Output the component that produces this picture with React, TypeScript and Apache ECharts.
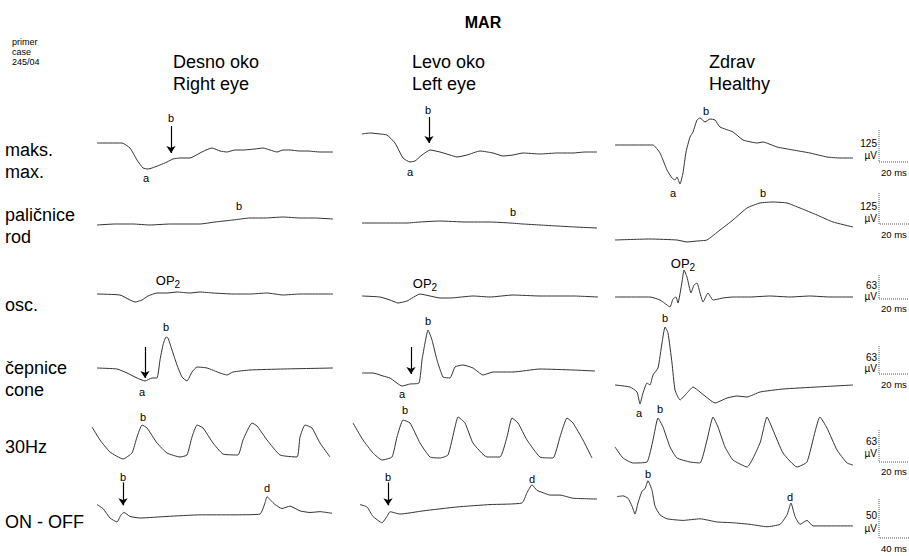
import React, { useEffect, useRef } from "react";
import * as echarts from "echarts";

// ---------- text ----------
const title = "MAR";
const caseInfo = ["primer", "case", "245/04"];
const columnTitles = [
  ["Desno oko", "Right eye"],
  ["Levo oko", "Left eye"],
  ["Zdrav", "Healthy"],
];
const rowLabels = [
  ["maks.", "max."],
  ["paličnice", "rod"],
  ["osc."],
  ["čepnice", "cone"],
  ["30Hz"],
  ["ON - OFF"],
];
const ampScale = ["125", "125", "63", "63", "63", "50"];
const ampUnit = "µV";
const timeScale = ["20 ms", "20 ms", "20 ms", "20 ms", "20 ms", "40 ms"];

// ---------- traces: [sample position, amplitude] ----------
const maxRight = [[5,2],[18,2],[30,2],[38,-3],[45,-15],[51,-23],[56,-24],[60,-23],[68,-20],[75,-17],[81,-14],[88,-13],[98,-13],[108,-8],[114,-5],[120,-3],[128,-6],[135,-7],[143,-5],[151,-5],[163,-4],[171,-3],[178,-5],[185,-7],[191,-5],[198,-5],[207,-6],[215,-6],[228,-7],[241,-7]];
const maxLeft = [[9,11],[17,12],[27,11],[34,10],[42,2],[50,-13],[57,-17],[62,-16],[69,-10],[77,-5],[87,-7],[97,-10],[104,-12],[114,-10],[127,-6],[140,-8],[150,-11],[160,-10],[170,-8],[187,-9],[204,-8],[220,-8],[232,-7],[244,-7]];
const maxHealthy = [[3,0],[18,0],[33,0],[41,0],[48,-8],[55,-25],[60,-33],[63,-35],[65,-32],[68,-39],[71,-28],[74,-7],[78,8],[81,13],[85,25],[88,27],[93,23],[98,26],[103,25],[108,18],[121,13],[131,5],[145,2],[151,3],[165,-2],[181,-5],[198,-8],[215,-12],[228,-13],[241,-13]];

const rodRight = [[5,0],[23,1],[41,1],[58,0],[78,1],[108,1],[123,3],[141,5],[158,7],[173,7],[191,8],[208,7],[223,7],[241,6]];
const rodLeft = [[9,2],[27,2],[54,2],[67,3],[87,4],[112,3],[137,3],[157,2],[170,1],[187,0],[204,-1],[222,-2],[244,-3]];
const rodHealthy = [[3,-15],[38,-14],[65,-15],[75,-17],[85,-16],[95,-15],[108,-5],[121,5],[135,17],[148,22],[161,23],[175,22],[188,17],[205,10],[221,3],[241,-2]];

const oscRight = [[5,2],[28,1],[38,-4],[43,-6],[50,-4],[56,0],[65,3],[75,3],[85,4],[98,3],[108,4],[121,3],[141,2],[158,2],[175,3],[191,1],[208,2],[241,2]];
const oscLeft = [[9,0],[27,-1],[37,-4],[45,-7],[54,-5],[67,2],[77,0],[87,-2],[97,-2],[120,0],[137,-1],[160,1],[187,0],[220,0],[245,-1]];
const oscHealthy = [[3,-1],[21,-1],[38,-1],[48,-4],[55,-9],[58,-11],[61,-3],[64,-1],[66,-7],[70,14],[72,26],[75,19],[79,3],[82,11],[85,13],[88,3],[91,-6],[96,3],[101,-4],[111,-2],[121,-1],[138,-1],[158,0],[178,-1],[198,0],[218,-1],[241,-1]];

const coneRight = [[5,4],[25,3],[35,-1],[45,-6],[53,-9],[60,-6],[65,-6],[68,12],[71,27],[74,35],[76,34],[80,22],[85,7],[90,-5],[95,-9],[100,0],[105,5],[115,4],[128,-1],[135,-3],[141,0],[158,2],[191,3],[241,4]];
const coneLeft = [[9,-1],[20,-1],[30,-4],[37,-6],[49,-14],[57,-12],[66,-11],[69,12],[72,29],[75,42],[79,32],[84,12],[90,-5],[97,-6],[102,5],[110,7],[120,4],[130,-3],[140,0],[160,0],[187,3],[220,2],[242,1]];
const coneHealthy = [[3,-13],[18,-15],[25,-20],[28,-32],[31,-21],[35,-11],[38,-13],[41,-3],[46,4],[50,29],[53,45],[56,39],[60,9],[63,-18],[68,-28],[75,-21],[81,-15],[88,-20],[98,-28],[103,-31],[115,-26],[125,-24],[135,-25],[148,-20],[171,-17],[205,-15],[241,-13]];

const flickerRight = [[0,33],[8,20],[18,8],[31,1],[40,7],[45,23],[50,35],[55,32],[65,17],[75,7],[88,3],[95,5],[100,23],[105,35],[111,32],[121,17],[131,6],[146,5],[151,20],[160,37],[165,34],[175,20],[188,5],[205,3],[208,23],[213,35],[220,32],[228,17],[238,3]];
const flickerLeft = [[0,37],[10,20],[20,7],[29,0],[39,3],[44,23],[50,40],[57,37],[67,17],[77,3],[87,2],[95,5],[102,33],[105,43],[112,37],[120,17],[134,3],[147,3],[154,23],[159,42],[165,37],[174,20],[187,3],[200,2],[207,23],[214,42],[220,37],[230,20],[239,2]];
const flickerHealthy = [[3,13],[11,2],[21,-3],[35,-2],[41,20],[46,42],[51,33],[58,13],[65,2],[78,-2],[88,-3],[95,20],[101,43],[106,33],[113,13],[121,0],[135,-7],[148,17],[155,43],[161,30],[171,7],[185,-7],[195,-2],[208,43],[215,32],[225,10],[235,-3],[241,-5]];

const onOffRight = [[5,10],[11,5],[18,-7],[25,-12],[29,-3],[32,0],[38,-5],[48,-7],[75,-5],[108,-3],[141,-3],[168,-2],[173,12],[175,20],[179,15],[183,10],[190,5],[198,8],[208,2],[218,0],[228,1],[240,-1]];
const onOffLeft = [[7,10],[14,7],[20,-5],[29,-13],[34,-5],[37,1],[47,-2],[70,2],[104,7],[137,10],[169,12],[174,25],[179,35],[184,28],[190,25],[197,22],[207,22],[220,18],[244,17]];
const onOffHealthy = [[5,20],[11,21],[16,18],[20,8],[23,-2],[26,12],[30,27],[33,30],[36,40],[40,28],[43,8],[48,-3],[55,-8],[71,-10],[88,-8],[105,-12],[121,-13],[138,-15],[155,-18],[168,-15],[175,-3],[179,12],[183,-5],[188,-15],[195,-10],[201,-17],[221,-17],[241,-17]];

const traces = [
  [maxRight, maxLeft, maxHealthy],
  [rodRight, rodLeft, rodHealthy],
  [oscRight, oscLeft, oscHealthy],
  [coneRight, coneLeft, coneHealthy],
  [flickerRight, flickerLeft, flickerHealthy],
  [onOffRight, onOffLeft, onOffHealthy],
];

// peak labels: [row, col, position, amplitude, text]
const peakLabels: [number, number, number, number, string][] = [
  [0, 0, 79, 27, "b"], [0, 0, 54, -33, "a"],
  [0, 1, 75, 35, "b"], [0, 1, 57, -27, "a"],
  [0, 2, 94, 34, "b"], [0, 2, 61, -48, "a"],
  [1, 0, 147, 19, "b"], [1, 1, 160, 13, "b"], [1, 2, 151, 32, "b"],
  [2, 0, 76, 16, "OP2"], [2, 1, 72, 13, "OP2"], [2, 2, 71, 33, "OP2"],
  [3, 0, 74, 45, "b"], [3, 0, 50, -20, "a"],
  [3, 1, 75, 51, "b"], [3, 1, 49, -22, "a"],
  [3, 2, 53, 54, "b"], [3, 2, 27, -41, "a"],
  [4, 0, 51, 43, "b"], [4, 1, 52, 50, "b"], [4, 2, 48, 51, "b"],
  [5, 0, 31, 45, "b"], [5, 0, 175, 31, "d"],
  [5, 1, 35, 45, "b"], [5, 1, 179, 42, "d"],
  [5, 2, 36, 49, "b"], [5, 2, 178, 19, "d"],
];

// arrows: [row, col, position, from amplitude, to amplitude]
const arrows: [number, number, number, number, number][] = [
  [0, 0, 79, 19, -8],
  [0, 1, 76, 28, 2],
  [3, 0, 53, 25, -6],
  [3, 1, 58, 25, -2],
  [5, 0, 31, 38, 9],
  [5, 1, 35, 38, 9],
];

// ---------- layout ----------
const FONT = '"Liberation Sans", Arial, Helvetica, sans-serif';
const colLeft = [92, 353, 612];
const rowBase = [145, 225, 296, 372, 460, 525];
const ABOVE = 60;
const BELOW = 55;
const PANEL_W = 248;
const scaleBars = [
  { top: 130, bottom: 162, amp: 143, unit: 155, time: 172 },
  { top: 193, bottom: 224, amp: 206, unit: 218, time: 234 },
  { top: 275, bottom: 299, amp: 285, unit: 296, time: 308 },
  { top: 346, bottom: 374, amp: 357, unit: 368, time: 384 },
  { top: 430, bottom: 462, amp: 441, unit: 453, time: 471 },
  { top: 499, bottom: 538, amp: 515, unit: 528, time: 548 },
];
const SCALE_X = 879;

function txt(text: string, x: number, y: number, size: number, align = "left", weight = "normal", rich?: any) {
  return {
    type: "text",
    x,
    y,
    silent: true,
    z: 10,
    style: {
      text,
      fontSize: size,
      fontFamily: FONT,
      fontWeight: weight,
      fill: "#000",
      align,
      textAlign: align,
      verticalAlign: "middle",
      textVerticalAlign: "middle",
      rich,
    },
  };
}

const opRich = {
  m: { fontSize: 13, fontFamily: FONT, fill: "#000", color: "#000" },
  s: { fontSize: 10, fontFamily: FONT, fill: "#000", color: "#000", padding: [8, 0, 0, 0] },
};

export default function App() {
  const ref = useRef<HTMLDivElement>(null);
  useEffect(() => {
    document.body.style.margin = "0";
    if (!ref.current) return;
    const chart = echarts.init(ref.current, undefined, { renderer: "svg" });

    const grid: any[] = [];
    const xAxis: any[] = [];
    const yAxis: any[] = [];
    const series: any[] = [];
    traces.forEach((row, r) => {
      row.forEach((data, c) => {
        const i = r * 3 + c;
        grid.push({ left: colLeft[c], top: rowBase[r] - ABOVE, width: PANEL_W, height: ABOVE + BELOW });
        xAxis.push({ type: "value", gridIndex: i, min: 0, max: PANEL_W, show: false });
        yAxis.push({ type: "value", gridIndex: i, min: -BELOW, max: ABOVE, show: false });
        const arr = arrows.filter((a) => a[0] === r && a[1] === c);
        series.push({
          type: "line",
          xAxisIndex: i,
          yAxisIndex: i,
          data,
          showSymbol: false,
          smooth: 0.15,
          silent: true,
          clip: false,
          lineStyle: { color: "#333", width: 1 },
          markLine: arr.length
            ? {
                silent: true,
                symbol: ["none", "arrow"],
                symbolSize: 7,
                label: { show: false },
                lineStyle: { color: "#000", width: 1.2, type: "solid" },
                data: arr.map((a) => [{ coord: [a[2], a[3]] }, { coord: [a[2], a[4]] }]),
              }
            : undefined,
        });
      });
    });

    chart.setOption({
      animation: false,
      backgroundColor: "#fff",
      grid,
      xAxis,
      yAxis,
      series,
    });

    const graphic: any[] = [];
    graphic.push(txt(title, 483, 22, 16, "center", "bold"));
    caseInfo.forEach((t, k) => graphic.push(txt(t, 12, 42 + k * 10, 9)));
    const headerX = [173, 412, 709];
    columnTitles.forEach((lines, c) => {
      lines.forEach((t, k) => graphic.push(txt(t, headerX[c], 62 + k * 22, 18)));
    });
    const labelY = [[150, 172], [215, 237], [305], [368, 390], [447], [522]];
    rowLabels.forEach((lines, r) => {
      lines.forEach((t, k) => graphic.push(txt(t, 5, labelY[r][k], 18)));
    });
    scaleBars.forEach((s, r) => {
      graphic.push({
        type: "polyline",
        silent: true,
        shape: { points: [[SCALE_X, s.top], [SCALE_X, s.bottom], [915, s.bottom]] },
        style: { stroke: "#555", lineWidth: 1, fill: "none", lineDash: [1, 1] },
      });
      graphic.push(txt(ampScale[r], SCALE_X - 2, s.amp, 10, "right"));
      graphic.push(txt(ampUnit, SCALE_X - 2, s.unit, 10, "right"));
      graphic.push(txt(timeScale[r], SCALE_X + 2, s.time, 9.5, "left"));
    });
    // peak labels placed through each panel's own axes
    peakLabels.forEach(([r, c, t, v, label]) => {
      const pt = chart.convertToPixel({ gridIndex: r * 3 + c }, [t, v]) as number[];
      if (!pt) return;
      if (label === "OP2") graphic.push(txt("{m|OP}{s|2}", pt[0], pt[1], 13, "center", "normal", opRich));
      else graphic.push(txt(label, pt[0], pt[1], 11, "center"));
    });
    chart.setOption({ graphic });

    return () => chart.dispose();
  }, []);
  return <div ref={ref} style={{ width: 909, height: 556 }} />;
}
